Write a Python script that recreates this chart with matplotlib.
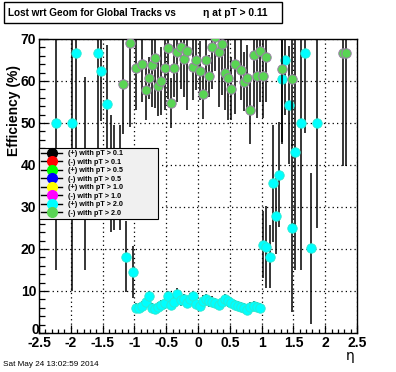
import matplotlib
matplotlib.use("Agg")
import matplotlib.pyplot as plt
import matplotlib.transforms as mtransforms
from matplotlib.lines import Line2D
from matplotlib.patches import Rectangle
from matplotlib.ticker import MultipleLocator

# (+) with pT > 2.0  (cyan)
eta_plus = [-2.225, -1.975, -1.925, -1.775, -1.575, -1.525, -1.425, -1.375, -1.325, -1.225,
            -1.125, -1.025,
            -0.975, -0.925, -0.875, -0.825, -0.775, -0.725, -0.675, -0.625, -0.575, -0.525,
            -0.475, -0.425, -0.375, -0.325, -0.275, -0.225, -0.175, -0.125, -0.075, -0.025,
            0.025, 0.075, 0.125, 0.175, 0.225, 0.275, 0.325, 0.375, 0.425, 0.475,
            0.525, 0.575, 0.625, 0.675, 0.725, 0.775, 0.825, 0.875, 0.925, 0.975,
            1.025, 1.075, 1.125, 1.175, 1.225, 1.275, 1.325, 1.375, 1.425, 1.475,
            1.525, 1.625, 1.675, 1.775, 1.875]
eff_plus = [50.0, 50.0, 66.7, 38.0, 66.7, 62.5, 54.5, 38.0, 37.0, 37.0,
            18.2, 14.6,
            5.9, 5.9, 6.4, 7.5, 8.7, 6.0, 5.7, 6.3, 6.7, 7.1,
            8.7, 6.7, 7.4, 9.4, 7.8, 8.0, 7.1, 8.2, 8.7, 7.0,
            6.4, 7.7, 8.0, 7.6, 7.5, 7.2, 6.7, 7.3, 8.0, 7.6,
            7.1, 6.7, 6.4, 6.1, 5.9, 5.5, 6.2, 6.4, 6.1, 5.9,
            21.0, 20.5, 18.2, 35.6, 27.8, 37.7, 60.5, 64.9, 54.3, 25.0,
            43.0, 50.0, 66.7, 20.2, 50.0]
err_plus = [35, 40, 30, 23, 25, 12, 14, 14, 12.5, 12.5,
            8.4, 6.2,
            1.2, 1.2, 1.2, 1.3, 1.4, 1.2, 1.2, 1.2, 1.2, 1.3,
            1.4, 1.2, 1.3, 1.4, 1.3, 1.3, 1.2, 1.3, 1.4, 1.2,
            1.2, 1.3, 1.3, 1.3, 1.3, 1.2, 1.2, 1.3, 1.3, 1.3,
            1.2, 1.2, 1.2, 1.2, 1.2, 1.2, 1.2, 1.2, 1.2, 1.2,
            8, 9.8, 7.5, 14, 9, 12.5, 15, 13, 14, 20,
            28, 35, 19, 18, 25]

# (-) with pT > 2.0  (green)
eta_minus = [-1.175, -1.075,
             -0.975, -0.875, -0.825, -0.775, -0.725, -0.675, -0.625, -0.575, -0.525,
             -0.475, -0.425, -0.375, -0.325, -0.275, -0.225, -0.175, -0.075, -0.025,
             0.025, 0.075, 0.125, 0.175, 0.225, 0.275, 0.325, 0.375, 0.425, 0.475,
             0.525, 0.575, 0.675, 0.725, 0.775, 0.825, 0.875, 0.925, 0.975,
             1.025, 1.075, 1.325, 1.475, 2.275, 2.325]
eff_minus = [59.4, 69.0,
             63.2, 64.0, 57.8, 60.8, 63.8, 65.5, 58.7, 60.0, 63.2,
             67.8, 54.7, 63.2, 66.9, 68.2, 65.2, 67.2, 63.4, 64.9,
             62.5, 57.0, 65.1, 61.2, 68.2, 70.4, 66.8, 68.7, 62.0, 60.8,
             58.2, 64.1, 62.7, 59.8, 60.6, 53.0, 66.3, 61.2, 67.1,
             61.2, 65.6, 62.9, 60.5, 66.7, 66.7]
err_minus = [12, 20,
             10, 9, 7, 5, 10, 12, 7, 8, 10,
             12, 6, 7, 12, 10, 9, 14, 8, 7,
             7, 6, 9, 5, 10, 8, 13, 12, 9, 10,
             7.6, 12, 7.3, 7, 8, 8, 14, 10, 12,
             10, 10.6, 18, 16, 27, 27]

legend_labels = ["(+) with pT > 0.1", "(-) with pT > 0.1", "(+) with pT > 0.5", "(-) with pT > 0.5",
                 "(+) with pT > 1.0", "(-) with pT > 1.0", "(+) with pT > 2.0", "(-) with pT > 2.0"]
legend_colors = ["#000000", "#ff0000", "#00ff00", "#0000ff", "#ffff00", "#ff00ff", "#00ffff", "#59d454"]

W, H = 396, 372
fig = plt.figure(figsize=(W / 100, H / 100), dpi=100)
ax = fig.add_axes([39 / W, 1 - 333 / H, 318 / W, 294 / H])

ax.errorbar(eta_plus, eff_plus, yerr=err_plus, fmt='o', ms=6.8, mfc='#00ffff', mec='#2ee8d0',
            mew=0.6, ecolor='black', elinewidth=1.1, capsize=0, zorder=3)
ax.errorbar(eta_minus, eff_minus, yerr=err_minus, fmt='o', ms=6.8, mfc='#59d454', mec='#9a80a6',
            mew=0.7, ecolor='black', elinewidth=1.1, capsize=0, zorder=4)

ax.set_xlim(-2.5, 2.5)
ax.set_ylim(0, 70)
ax.xaxis.set_major_locator(MultipleLocator(0.5))
ax.xaxis.set_minor_locator(MultipleLocator(0.1))
ax.yaxis.set_major_locator(MultipleLocator(10))
ax.yaxis.set_minor_locator(MultipleLocator(2))
ax.grid(True, which='major', color='black', linestyle=(0, (1, 2.5)), linewidth=0.9)
ax.set_axisbelow(True)
ax.tick_params(which='both', direction='in', top=False, right=False, width=0.9, pad=2)
ax.tick_params(which='major', axis='x', length=6)
ax.tick_params(which='minor', axis='x', length=3)
ax.tick_params(which='major', axis='y', length=6.5)
ax.tick_params(which='minor', axis='y', length=4)
for s in ax.spines.values():
    s.set_linewidth(1.0)

tick_font = dict(family='Liberation Sans', weight='bold', size=10)
ax.set_xticks([-2.5, -2, -1.5, -1, -0.5, 0, 0.5, 1, 1.5, 2, 2.5])
ax.set_xticklabels(["-2.5", "-2", "-1.5", "-1", "-0.5", "0", "0.5", "1", "1.5", "2", "2.5"], **tick_font)
ax.set_yticks([0, 10, 20, 30, 40, 50, 60, 70])
ax.set_yticklabels(["0", "10", "20", "30", "40", "50", "60", "70"], **tick_font)
# ROOT puts the zero label a bit higher than the x labels
zero_lbl = ax.get_yticklabels()[0]
zero_lbl.set_transform(zero_lbl.get_transform() +
                       mtransforms.ScaledTranslation(2 / 72, 3 / 72, fig.dpi_scale_trans))

fig.text(14 / W, 1 - 65 / H, "Efficiency (%)", rotation=90, ha='center', va='top', **tick_font)
fig.text(350 / W, 1 - 356 / H, "η", ha='center', va='center', family='DejaVu Sans', size=10)
fig.text(3 / W, 1 - 365 / H, "Sat May 24 13:02:59 2014", ha='left', va='center',
         family='Liberation Sans', size=5.9)

# title box
fig.patches.append(Rectangle((3.5 / W, 1 - 22.5 / H), 278 / W, 20.5 / H, transform=fig.transFigure,
                             facecolor='white', edgecolor='black', linewidth=1.0))
fig.text(8 / W, 1 - 12.5 / H, "Lost wrt Geom for Global Tracks vs", ha='left', va='center',
         family='Liberation Sans', weight='bold', size=7.2)
fig.text(203 / W, 1 - 12.5 / H, "η at pT > 0.11", ha='left', va='center',
         family=['Liberation Sans', 'DejaVu Sans'], weight='bold', size=7.4)

handles = [Line2D([], [], color='black', lw=1.0, marker='o', ms=7, mfc=c, mec=c) for c in legend_colors]
leg = ax.legend(handles, legend_labels, loc='upper left',
                bbox_to_anchor=(0, (333 - 223) / 294, 119 / 318, 75 / 294), mode='expand',
                borderaxespad=0, frameon=True, fancybox=False, framealpha=1,
                prop=dict(family='Liberation Sans', weight='bold', size=5.2),
                handlelength=2.9, handletextpad=0.8, labelspacing=0.2, borderpad=0.3)
leg.get_frame().set_facecolor('#f0f0f0')
leg.get_frame().set_edgecolor('black')
leg.get_frame().set_linewidth(0.8)
leg.set_zorder(10)

fig.savefig("out.png", dpi=100)
